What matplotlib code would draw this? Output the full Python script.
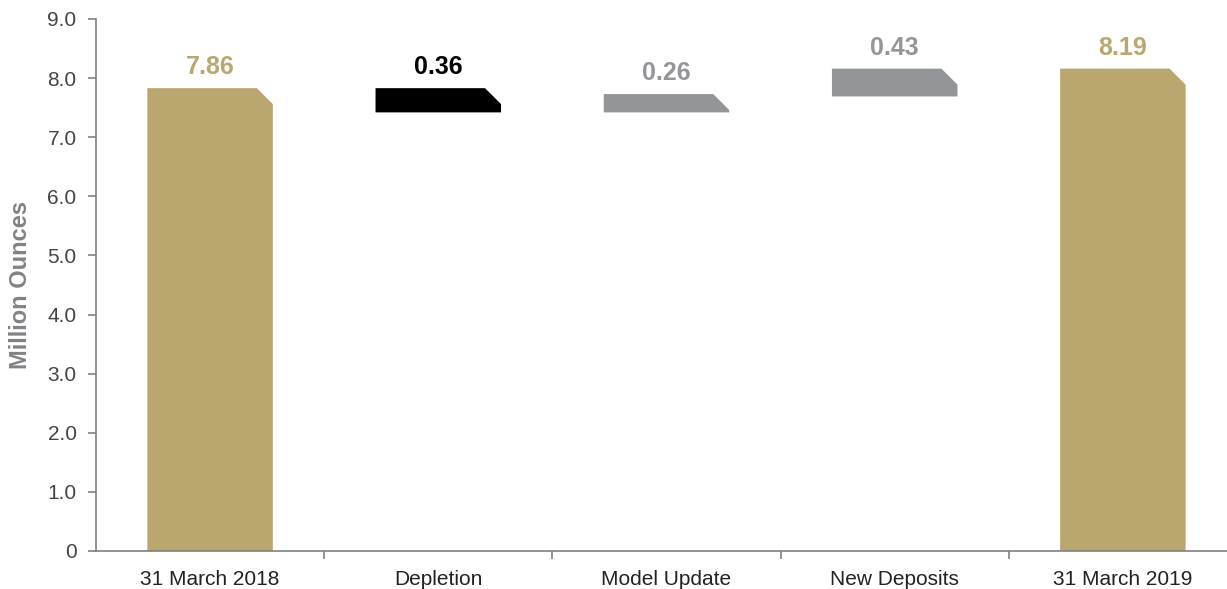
import matplotlib
matplotlib.use("Agg")
import matplotlib.pyplot as plt
from matplotlib.patches import Polygon
from matplotlib.ticker import FixedLocator, FixedFormatter

categories = ["31 March 2018", "Depletion", "Model Update", "New Deposits", "31 March 2019"]
starts = [0.0, 7.42, 7.42, 7.69, 0.0]
ends = [7.83, 7.83, 7.73, 8.16, 8.16]
labels = ["7.86", "0.36", "0.26", "0.43", "8.19"]
colors = ["#B9A76F", "#000000", "#939598", "#939598", "#B9A76F"]
label_colors = ["#B9A76F", "#000000", "#939598", "#939598", "#B9A76F"]
yticks = [0, 1, 2, 3, 4, 5, 6, 7, 8, 9]
ytick_labels = ["0", "1.0", "2.0", "3.0", "4.0", "5.0", "6.0", "7.0", "8.0", "9.0"]

plt.rcParams['font.family'] = ['Liberation Sans', 'DejaVu Sans']

fig = plt.figure(figsize=(12.27, 5.89), dpi=100)
ax = fig.add_axes([96/1227, 38/589, (1237-96)/1227, (551-19)/589])
ax.set_xlim(-0.5, len(categories) - 0.5)
ax.set_ylim(0, 9)

width = 0.55
# chamfer size ~16 px expressed in data units
dx = 16 / 228
dy = 16 / 59.1
for i, (s, e, c) in enumerate(zip(starts, ends, colors)):
    lo, hi = min(s, e), max(s, e)
    x0, x1 = i - width / 2, i + width / 2
    h = hi - lo
    cy = min(dy, h)
    cx = dx * cy / dy
    poly = Polygon([(x0, lo), (x1, lo), (x1, hi - cy), (x1 - cx, hi), (x0, hi)],
                   closed=True, facecolor=c, edgecolor='none')
    ax.add_patch(poly)
    ax.text(i, hi + 0.15, labels[i], ha='center', va='bottom', fontsize=18,
            fontweight='bold', color=label_colors[i])

for sp in ['top', 'right']:
    ax.spines[sp].set_visible(False)
for sp in ['left', 'bottom']:
    ax.spines[sp].set_color('#808080')
    ax.spines[sp].set_linewidth(1.2)

ax.yaxis.set_major_locator(FixedLocator(yticks))
ax.yaxis.set_major_formatter(FixedFormatter(ytick_labels))
ax.set_xticks(range(len(categories)))
ax.set_xticklabels(categories)
ax.set_xticks([i + 0.5 for i in range(len(categories) - 1)], minor=True)
ax.tick_params(axis='x', which='major', length=0, pad=14, labelsize=15, labelcolor='#222222')
ax.tick_params(axis='x', which='minor', length=6, color='#808080', width=1.2)
ax.tick_params(axis='y', length=6, color='#808080', width=1.2, labelsize=15,
               labelcolor='#444444', pad=8)

ax.set_ylabel("Million Ounces", fontsize=17, fontweight='bold', color='#808285',
              va='center', ha='center')
ax.yaxis.set_label_coords(-75 / 1141, 0.5)

fig.savefig("out.png", dpi=100)
